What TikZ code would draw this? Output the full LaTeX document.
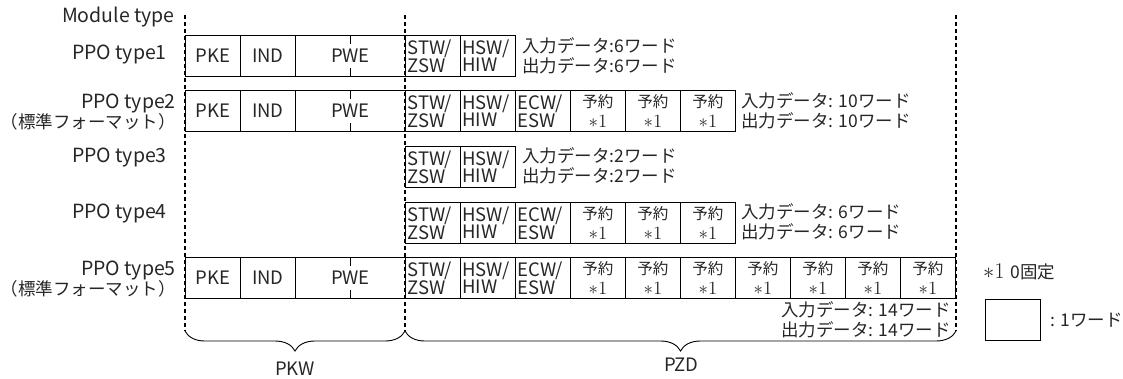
\documentclass[tikz,border=0pt]{standalone}
\usepackage{fontspec}
\setmainfont{Noto Sans CJK JP}
\usetikzlibrary{decorations.pathreplacing}
\newcommand{\fixnote}{\scalebox{1.3}{$\ast 1$}}
\begin{document}
\begin{tikzpicture}
	[	x=1pt,y=-1pt,
		word/.style={draw=black, line width=0.9pt, anchor=north west, minimum width=55pt, minimum height=41pt, inner sep=0pt, text=black!85, font=\fontsize{18.5}{17}\selectfont},
		dword/.style={word, minimum width=110pt},
		reg/.style={word, align=left, text width=51pt},
		rsv/.style={word, align=center, font=\fontsize{15.5}{19.5}\selectfont},
		typename/.style={anchor=east, inner sep=0pt, align=right, text=black!85, font=\fontsize{19.5}{19}\selectfont},
		info/.style={anchor=west, inner sep=0pt, align=left, text=black!85, font=\fontsize{17.5}{20}\selectfont},
		guide/.style={dash pattern=on 4pt off 3pt, line width=1.3pt},
		curly/.style={decorate, decoration={brace, mirror, amplitude=20pt}, line width=0.9pt},
		tick/.style={line width=0.9pt},
	]
	\useasboundingbox (0,0) rectangle (1123,378);

	% guides
	\coordinate (g1t) at (185,15);  \coordinate (g1b) at (185,331);
	\coordinate (g2t) at (405,15);  \coordinate (g2b) at (405,331);
	\coordinate (g3t) at (956,15);  \coordinate (g3b) at (956,331);

	% module type names
	\node[typename] (mt) at (175,17) {Module type};
	\node[typename] (n1) at (167,55) {PPO type1};
	\node[typename] (n2) at (176,112) {PPO type2\\{\fontsize{17.5}{19}\selectfont（標準フォーマット）}};
	\node[typename] (n3) at (167,158) {PPO type3};
	\node[typename] (n4) at (167,214) {PPO type4};
	\node[typename] (n5) at (176,279) {PPO type5\\{\fontsize{17.5}{19}\selectfont（標準フォーマット）}};

	% PPO type1
	\node[word] (t1pke) at (185,35) {PKE};
	\node[word] (t1ind) at (240,35) {IND};
	\node[dword] (t1pwe) at (295,35) {PWE};
	\node[reg] (t1stw) at (405,35) {STW/\\ZSW};
	\node[reg] (t1hsw) at (460,35) {HSW/\\HIW};
	\node[info] (t1io) at (522,56) {入力データ:6ワード\\出力データ:6ワード};

	% PPO type2
	\node[word] (t2pke) at (185,90) {PKE};
	\node[word] (t2ind) at (240,90) {IND};
	\node[dword] (t2pwe) at (295,90) {PWE};
	\node[reg] (t2stw) at (405,90) {STW/\\ZSW};
	\node[reg] (t2hsw) at (460,90) {HSW/\\HIW};
	\node[reg] (t2ecw) at (515,90) {ECW/\\ESW};
	\foreach \i in {1,2,3}
		\node[rsv] (t2r\i) at (515+55*\i,90) {予約\\\fixnote};
	\node[info] (t2io) at (741,111) {入力データ: 10ワード\\出力データ: 10ワード};

	% PPO type3
	\node[reg] (t3stw) at (405,146) {STW/\\ZSW};
	\node[reg] (t3hsw) at (460,146) {HSW/\\HIW};
	\node[info] (t3io) at (522,166) {入力データ:2ワード\\出力データ:2ワード};

	% PPO type4
	\node[reg] (t4stw) at (405,202) {STW/\\ZSW};
	\node[reg] (t4hsw) at (460,202) {HSW/\\HIW};
	\node[reg] (t4ecw) at (515,202) {ECW/\\ESW};
	\foreach \i in {1,2,3}
		\node[rsv] (t4r\i) at (515+55*\i,202) {予約\\\fixnote};
	\node[info] (t4io) at (741,222) {入力データ: 6ワード\\出力データ: 6ワード};

	% PPO type5
	\node[word] (t5pke) at (185,257) {PKE};
	\node[word] (t5ind) at (240,257) {IND};
	\node[dword] (t5pwe) at (295,257) {PWE};
	\node[reg] (t5stw) at (405,257) {STW/\\ZSW};
	\node[reg] (t5hsw) at (460,257) {HSW/\\HIW};
	\node[reg] (t5ecw) at (515,257) {ECW/\\ESW};
	\foreach \i in {1,...,7}
		\node[rsv] (t5r\i) at (515+55*\i,257) {予約\\\fixnote};
	\node[info, anchor=east, align=right] (t5io) at (951,320) {入力データ: 14ワード\\出力データ: 14ワード};

	% PWE word ticks
	\foreach \r in {t1pwe,t2pwe,t5pwe}{
		\draw[tick] (\r.north) -- ++(0,9);
		\draw[tick] (\r.south) -- ++(0,-9);
	}

	\draw[guide] (g1t) -- (g1b);
	\draw[guide] (g2t) -- (g2b);
	\draw[guide] (g3t) -- (g3b);

	% braces
	\draw[curly] (g1b) -- (g2b);
	\draw[curly] (g2b) -- (g3b);
	\node[info, anchor=center, font=\fontsize{18.5}{20}\selectfont] (pkw) at (295,369) {PKW};
	\node[info, anchor=center, font=\fontsize{18.5}{20}\selectfont] (pzd) at (681,365) {PZD};

	% legend
	\node[info] (note) at (983,272) {\fixnote\hspace{6pt}0固定};
	\node[word] (oneword) at (985,299) {};
	\node[info] (onelbl) at (1050,320) {: 1ワード};
\end{tikzpicture}
\end{document}
